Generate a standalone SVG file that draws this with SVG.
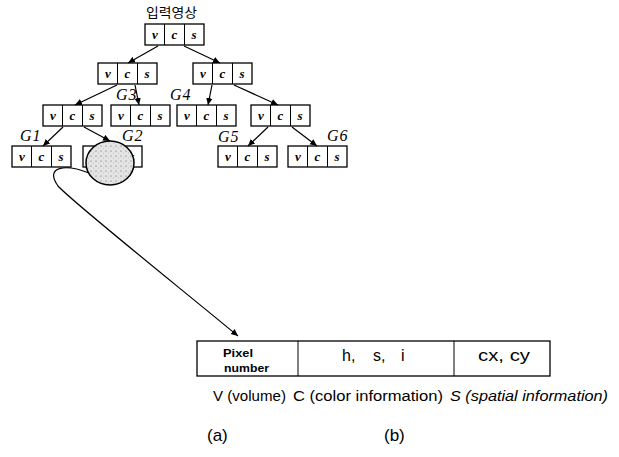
<svg xmlns="http://www.w3.org/2000/svg" width="619" height="457" viewBox="0 0 619 457">
<style>
.box{fill:#fff;stroke:#000;stroke-width:1.3}
.div{stroke:#000;stroke-width:1}
.cell{font-family:"Liberation Serif",serif;font-style:italic;font-weight:bold;font-size:13px;text-anchor:middle}
.g{font-family:"Liberation Serif",serif;font-style:italic;font-size:16px;letter-spacing:1px}
.con{fill:none;stroke:#000;stroke-width:1.2}
.sans{font-family:"Liberation Sans",Arial,sans-serif}
</style>
<defs>
<marker id="ah" markerWidth="8" markerHeight="8" refX="7" refY="4" orient="auto" markerUnits="userSpaceOnUse">
<path d="M0,0.8 L7,4 L0,7.2 z" fill="#000"/>
</marker>
<pattern id="stip" width="5" height="5" patternUnits="userSpaceOnUse">
<rect width="5" height="5" fill="#e4e4e4"/>
<circle cx="1" cy="1" r="0.55" fill="#555"/>
<circle cx="3.5" cy="3" r="0.45" fill="#999"/>
</pattern>
<g id="vcs">
<rect class="box" x="0" y="0" width="59" height="21"/>
<line class="div" x1="19.5" y1="0" x2="19.5" y2="21"/>
<line class="div" x1="39.5" y1="0" x2="39.5" y2="21"/>
<text class="cell" x="10" y="15">v</text>
<text class="cell" x="29.5" y="15">c</text>
<text class="cell" x="49" y="15">s</text>
</g>
</defs>
<rect width="619" height="457" fill="#fff"/>

<g id="root">
<text x="146" y="17" font-family="'Noto Sans CJK KR',sans-serif" font-size="13" textLength="51" lengthAdjust="spacingAndGlyphs">입력영상</text>
<use href="#vcs" x="145" y="24"/>
</g>
<g id="n2a"><use href="#vcs" x="98" y="63"/></g>
<g id="n2b"><use href="#vcs" x="193" y="63"/></g>
<g id="n3a"><use href="#vcs" x="43" y="105"/></g>
<g id="nG3"><use href="#vcs" x="111" y="105"/><text class="g" x="116" y="100">G3</text></g>
<g id="nG4"><use href="#vcs" x="177" y="105"/><text class="g" x="170" y="100">G4</text></g>
<g id="n3b"><use href="#vcs" x="251" y="105"/></g>
<g id="nG1"><use href="#vcs" x="12" y="146"/><text class="g" x="20" y="141">G1</text></g>
<g id="nG2"><use href="#vcs" x="83" y="146"/><text class="g" x="122" y="141">G2</text>
<ellipse cx="110" cy="163" rx="24" ry="22" fill="url(#stip)" stroke="#000" stroke-width="1.5"/></g>
<g id="nG5"><use href="#vcs" x="218" y="146"/><text class="g" x="218" y="142">G5</text></g>
<g id="nG6"><use href="#vcs" x="288" y="146"/><text class="g" x="327" y="141">G6</text></g>

<g id="connectors">
<line class="con" x1="158" y1="46" x2="128" y2="63" marker-end="url(#ah)"/>
<line class="con" x1="184" y1="46" x2="220" y2="63" marker-end="url(#ah)"/>
<line class="con" x1="117" y1="85" x2="75" y2="105" marker-end="url(#ah)"/>
<line class="con" x1="135" y1="85" x2="139" y2="105" marker-end="url(#ah)"/>
<line class="con" x1="212" y1="85" x2="208" y2="105" marker-end="url(#ah)"/>
<line class="con" x1="234" y1="85" x2="278" y2="105" marker-end="url(#ah)"/>
<line class="con" x1="63" y1="127" x2="43" y2="146" marker-end="url(#ah)"/>
<line class="con" x1="84" y1="127" x2="110" y2="141" marker-end="url(#ah)"/>
<line class="con" x1="268" y1="127" x2="248" y2="146" marker-end="url(#ah)"/>
<line class="con" x1="292" y1="127" x2="317" y2="146" marker-end="url(#ah)"/>
<path class="con" d="M89,173 C66,164 44,166 58,186 C70,200 180,288 238,336" marker-end="url(#ah)"/>
</g>

<g id="table">
<rect x="197" y="341" width="353" height="35" fill="#fff" stroke="#000" stroke-width="1.3"/>
<line class="div" x1="298" y1="341" x2="298" y2="376"/>
<line class="div" x1="454" y1="341" x2="454" y2="376"/>
<text class="sans" x="223" y="357" font-size="11" font-weight="bold" textLength="30" lengthAdjust="spacingAndGlyphs">Pixel</text>
<text class="sans" x="224" y="372" font-size="11" font-weight="bold" textLength="45" lengthAdjust="spacingAndGlyphs">number</text>
<text class="sans" x="342" y="361" font-size="16">h,</text>
<text class="sans" x="373" y="361" font-size="16">s,</text>
<text class="sans" x="401" y="361" font-size="16">i</text>
<text class="sans" x="478" y="361" font-size="16" textLength="52" lengthAdjust="spacingAndGlyphs">cx, cy</text>
</g>

<g id="captions" class="sans">
<text x="213" y="401" font-size="14" textLength="73" lengthAdjust="spacingAndGlyphs">V (volume)</text>
<text x="293" y="401" font-size="14" textLength="150" lengthAdjust="spacingAndGlyphs">C (color information)</text>
<text x="450" y="401" font-size="14" font-style="italic" textLength="158" lengthAdjust="spacingAndGlyphs">S (spatial information)</text>
<text x="207" y="441" font-size="17">(a)</text>
<text x="384" y="441" font-size="17">(b)</text>
</g>
</svg>
